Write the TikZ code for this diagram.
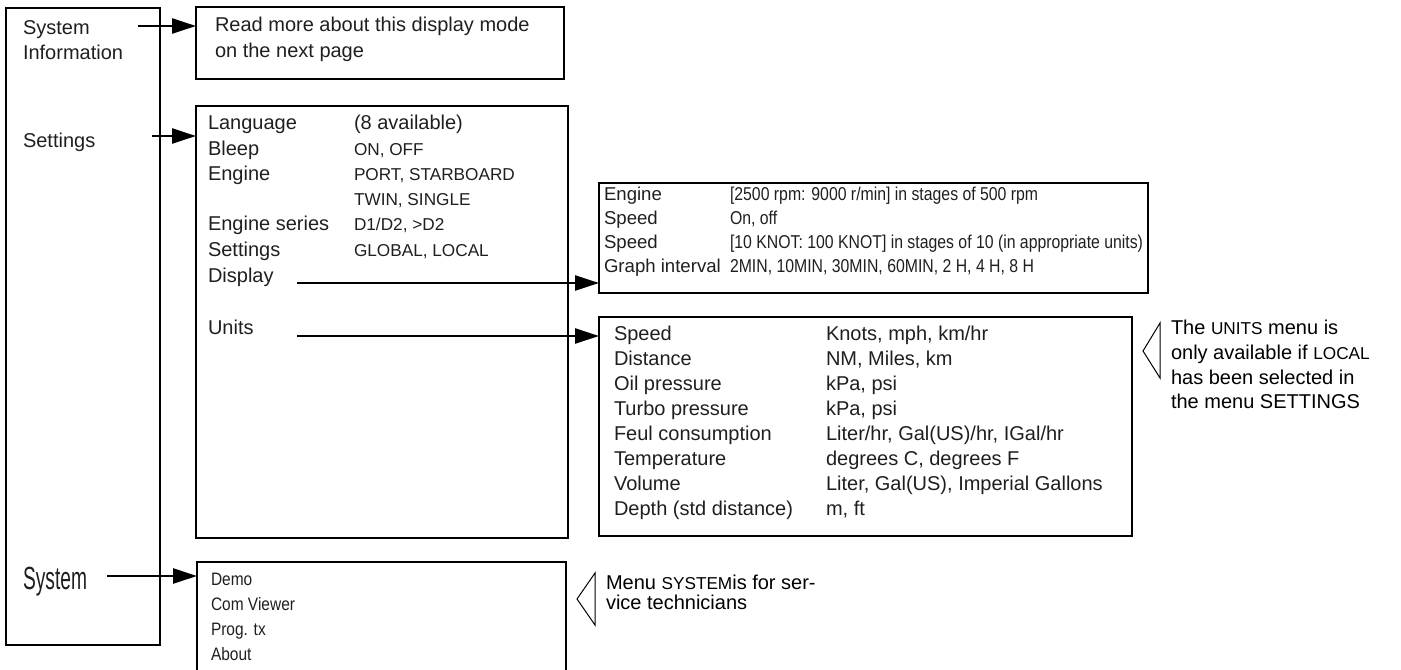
\documentclass[tikz,border=0pt]{standalone}
\usepackage{fontspec}
\usepackage{graphicx}
\setmainfont{Liberation Sans}
\usetikzlibrary{arrows.meta,fit}
\newcommand\smc[1]{{\fontsize{8.6pt}{10pt}\selectfont #1}}
\newcommand\cond[1]{\scalebox{0.86}[1]{#1}}
\newcommand\dcond[1]{\scalebox{0.85}[1]{#1}}
\begin{document}
\begin{tikzpicture}[x=0.5pt,y=-0.5pt,
  every node/.style={inner sep=0pt,outer sep=0pt},
  txt/.style={anchor=base west,font=\fontsize{10pt}{12pt}\selectfont,text=black!88},
  dtxt/.style={anchor=base west,font=\fontsize{9.3pt}{12pt}\selectfont,text=black!88},
  ntxt/.style={anchor=base west,font=\fontsize{10pt}{12pt}\selectfont,text=black},
  ctxt/.style={anchor=base west,font=\fontsize{9pt}{11pt}\selectfont,text=black!88},
  box/.style={draw,line width=1pt,inner sep=0pt},
  thinbox/.style={draw,line width=0.65pt,inner sep=0pt},
  arr/.style={line width=1.2pt,-{Triangle[length=12pt,width=7.5pt]}},
  tri/.style={draw,line width=0.5pt,line join=miter}]
\useasboundingbox (0,0) rectangle (1401,669);
\clip (0,0) rectangle (1401,669);

% ---- box corners
\coordinate (l1) at (6,8);     \coordinate (l2) at (160,645);
\coordinate (s1) at (196,7);   \coordinate (s2) at (564,79);
\coordinate (g1) at (196,106); \coordinate (g2) at (568,538);
\coordinate (d1) at (599,183); \coordinate (d2) at (1148,293);
\coordinate (u1) at (599,317); \coordinate (u2) at (1132,536);
\coordinate (y1) at (197,562); \coordinate (y2) at (566,700);

\node[thinbox,fit=(l1)(l2)] (menu) {};
\node[box,fit=(s1)(s2)] (sibox) {};
\node[box,fit=(g1)(g2)] (setbox) {};
\node[box,fit=(d1)(d2)] (dispbox) {};
\node[box,fit=(u1)(u2)] (unitbox) {};
\node[box,fit=(y1)(y2)] (sysbox) {};

% ---- left menu
\node[txt] (mSys) at (23,34) {System};
\node[txt] (mInf) at (23,59) {Information};
\node[txt] (mSet) at (23,147) {Settings};
\node[anchor=base west,font=\fontsize{16pt}{18pt}\selectfont,text=black!88] (mSystem) at (23,589) {\scalebox{0.6}[1]{System}};

% ---- system information box
\node[txt] (si1) at (215,32) {Read more about this display mode};
\node[txt] (si2) at (215,57) {on the next page};

% ---- settings box
\node[txt] (sLang) at (208,129) {Language};
\node[txt] (vLang) at (354,129) {(8 available)};
\node[txt] (sBleep) at (208,155) {Bleep};
\node[txt] (vBleep) at (354,155) {\smc{ON, OFF}};
\node[txt] (sEng) at (208,180) {Engine};
\node[txt] (vEng) at (354,180) {\smc{PORT, STARBOARD}};
\node[txt] (vEng2) at (354,205) {\smc{TWIN, SINGLE}};
\node[txt] (sSer) at (208,230) {Engine series};
\node[txt] (vSer) at (354,230) {\smc{D1/D2, >D2}};
\node[txt] (sSet) at (208,256) {Settings};
\node[txt] (vSet) at (354,256) {\smc{GLOBAL, LOCAL}};
\node[txt] (sDisp) at (208,282) {Display};
\node[txt] (sUnits) at (208,334) {Units};

% ---- display box
\node[dtxt] (d1a) at (604,200) {Engine};
\node[dtxt] (d1b) at (730,200) {\dcond{[2500 rpm: 9000 r/min] in stages of 500 rpm}};
\node[dtxt] (d2a) at (604,224) {Speed};
\node[dtxt] (d2b) at (730,224) {\dcond{On, off}};
\node[dtxt] (d3a) at (604,248) {Speed};
\node[dtxt] (d3b) at (730,248) {\dcond{[10 KNOT: 100 KNOT] in stages of 10 (in appropriate units)}};
\node[dtxt] (d4a) at (604,272) {Graph interval};
\node[dtxt] (d4b) at (730,272) {\dcond{2MIN, 10MIN, 30MIN, 60MIN, 2 H, 4 H, 8 H}};

% ---- units box
\node[txt] (u1a) at (614,340) {Speed};
\node[txt] (u1b) at (826,340) {Knots, mph, km/hr};
\node[txt] (u2a) at (614,365) {Distance};
\node[txt] (u2b) at (826,365) {NM, Miles, km};
\node[txt] (u3a) at (614,390) {Oil pressure};
\node[txt] (u3b) at (826,390) {kPa, psi};
\node[txt] (u4a) at (614,415) {Turbo pressure};
\node[txt] (u4b) at (826,415) {kPa, psi};
\node[txt] (u5a) at (614,440) {Feul consumption};
\node[txt] (u5b) at (826,440) {Liter/hr, Gal(US)/hr, IGal/hr};
\node[txt] (u6a) at (614,465) {Temperature};
\node[txt] (u6b) at (826,465) {degrees C, degrees F};
\node[txt] (u7a) at (614,490) {Volume};
\node[txt] (u7b) at (826,490) {Liter, Gal(US), Imperial Gallons};
\node[txt] (u8a) at (614,515) {Depth (std distance)};
\node[txt] (u8b) at (826,515) {m, ft};

% ---- units note
\draw[tri] (1160,323) -- (1143,351) -- (1160,378) -- cycle;
\node[ntxt] (n1) at (1171,334) {The \smc{UNITS} menu is};
\node[ntxt] (n2) at (1171,359) {only available if \smc{LOCAL}};
\node[ntxt] (n3) at (1171,384) {has been selected in};
\node[ntxt] (n4) at (1171,408) {the menu SETTINGS};

% ---- system box
\node[ctxt] (yDemo) at (211,585) {\cond{Demo}};
\node[ctxt] (yCom) at (211,610) {\cond{Com Viewer}};
\node[ctxt] (yProg) at (211,635) {\cond{Prog. tx}};
\node[ctxt] (yAbout) at (211,660) {\cond{About}};

% ---- system note
\draw[tri] (595,573) -- (577,599) -- (595,625) -- cycle;
\node[ntxt] (m1) at (606,589) {Menu \smc{SYSTEM}is for ser-};
\node[ntxt] (m2) at (606,609) {vice technicians};

% ---- connectors
\coordinate (aSI) at (138,26);
\coordinate (aSet) at (152,136);
\coordinate (aDisp) at (297,283);
\coordinate (aUnit) at (297,336);
\coordinate (aSys) at (107,576);
\draw[arr] (aSI) -- (aSI -| sibox.west);
\draw[arr] (aSet) -- (aSet -| setbox.west);
\draw[arr] (aDisp) -- (aDisp -| dispbox.west);
\draw[arr] (aUnit) -- (aUnit -| unitbox.west);
\draw[arr] (aSys) -- (aSys -| sysbox.west);
\end{tikzpicture}
\end{document}
